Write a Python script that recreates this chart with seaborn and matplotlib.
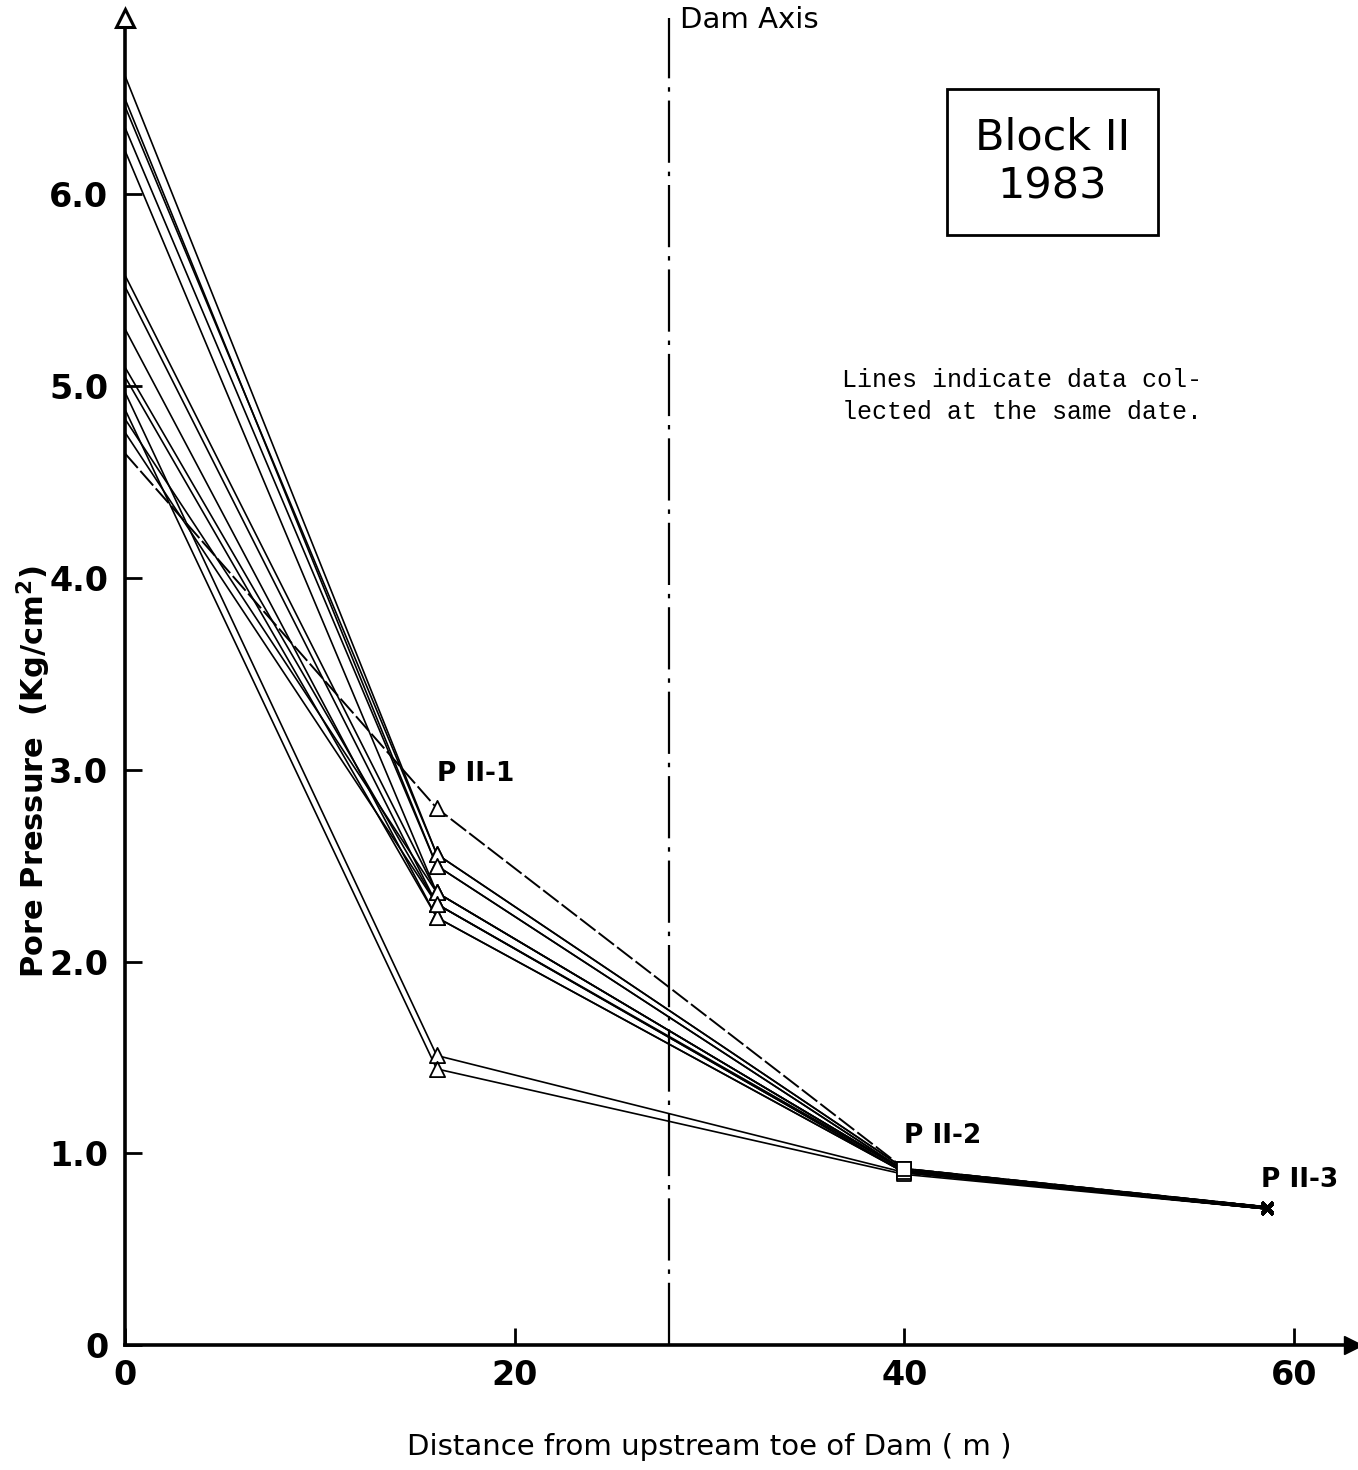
"""
Block II (1983) pore pressure profiles across the dam
"""
import pandas as pd
import numpy as np
import matplotlib
matplotlib.use("Agg")
import matplotlib.pyplot as plt
import seaborn as sns

sns.set_theme(style="ticks")
plt.rcParams['font.family'] = ['DejaVu Sans']
plt.rcParams['text.color'] = 'black'
plt.rcParams['axes.labelcolor'] = 'black'

# piezometer positions (m from upstream toe)
distance = [0.0, 16.0, 40.0, 58.6]
stations = ["upstream", "P II-1", "P II-2", "P II-3"]

# pore pressure (Kg/cm2), one entry per reading date
p_upstream = [6.62, 6.50, 6.46, 6.35, 6.23, 5.58, 5.52, 5.30, 5.10, 5.05, 4.97, 4.88, 4.83, 4.76, 4.65]
p_pii1 = [2.56, 2.50, 2.56, 2.50, 2.36, 2.36, 2.30, 2.23, 2.30, 2.23, 1.51, 1.44, 2.36, 2.30, 2.80]
p_pii2 = [0.92, 0.91, 0.92, 0.91, 0.91, 0.91, 0.90, 0.90, 0.91, 0.90, 0.90, 0.89, 0.91, 0.90, 0.92]
p_pii3 = [0.72, 0.72, 0.72, 0.71, 0.72, 0.71, 0.71, 0.71, 0.72, 0.71, 0.71, 0.71, 0.72, 0.71, 0.72]

dam_axis = 27.9

rows = []
for i in range(len(p_upstream)):
    vals = [p_upstream[i], p_pii1[i], p_pii2[i], p_pii3[i]]
    for st, d, v in zip(stations, distance, vals):
        rows.append({"date": i, "station": st, "distance": d, "pressure": v})
df = pd.DataFrame(rows)

dashed_date = len(p_upstream) - 1

fig = plt.figure(figsize=(13.58, 14.70), dpi=100)
ax = fig.add_axes([0.092, 0.085, 0.904, 0.9027])

sns.lineplot(data=df[df["date"] != dashed_date], x="distance", y="pressure",
             units="date", estimator=None, sort=False, color="black",
             lw=1.2, ax=ax, legend=False)
sns.lineplot(data=df[df["date"] == dashed_date], x="distance", y="pressure",
             estimator=None, sort=False, color="black", lw=1.4,
             linestyle=(0, (10, 2)), ax=ax, legend=False)

# piezometer markers
sns.scatterplot(data=df[df["station"] == "P II-1"], x="distance", y="pressure",
                marker="^", s=120, facecolor="white", edgecolor="black",
                linewidth=1.3, ax=ax, zorder=5, legend=False)
sns.scatterplot(data=df[df["station"] == "P II-2"], x="distance", y="pressure",
                marker="s", s=110, facecolor="white", edgecolor="black",
                linewidth=1.3, ax=ax, zorder=5, legend=False)
sns.scatterplot(data=df[df["station"] == "P II-3"], x="distance", y="pressure",
                marker="x", s=60, color="black", linewidth=2, ax=ax,
                zorder=5, legend=False)

# dam axis
ax.axvline(dam_axis, color="black", lw=1.6, ls=(0, (28, 4, 2, 4)), clip_on=False)
ax.text(dam_axis + 0.6, 6.91, "Dam Axis", fontsize=21, va="center", ha="left")

# piezometer labels
ax.text(16.0, 2.98, "P II-1", fontsize=19, fontweight="bold", ha="left", va="center")
ax.text(40.0, 1.09, "P II-2", fontsize=19, fontweight="bold", ha="left", va="center")
ax.text(58.3, 0.86, "P II-3", fontsize=19, fontweight="bold", ha="left", va="center")

# title box
ax.text(47.6, 6.17, "Block II\n1983", fontsize=31, ha="center", va="center",
        linespacing=1.2,
        bbox=dict(boxstyle="square,pad=0.65", fc="white", ec="black", lw=2))

ax.text(36.8, 4.95, "Lines indicate data col-\nlected at the same date.",
        fontsize=18, family="Liberation Mono", ha="left", va="center",
        linespacing=1.45)

ax.set_xlim(0, 63)
ax.set_ylim(0, 6.92)
ax.set_xticks([0, 20, 40, 60])
ax.set_xticklabels(["0", "20", "40", "60"])
ax.set_yticks([0, 1, 2, 3, 4, 5, 6])
ax.set_yticklabels(["0", "1.0", "2.0", "3.0", "4.0", "5.0", "6.0"])
ax.tick_params(axis="both", direction="in", length=12, width=2, labelsize=24,
               colors="black")
ax.tick_params(axis="y", pad=12)
ax.tick_params(axis="x", pad=10)
for lbl in ax.get_xticklabels() + ax.get_yticklabels():
    lbl.set_fontweight("bold")

sns.despine(ax=ax)
for side in ["left", "bottom"]:
    ax.spines[side].set_linewidth(2.6)
    ax.spines[side].set_color("black")

# axis arrows
ax.plot(0, 1, marker="^", ms=13, mfc="white", mec="black", mew=2.2,
        transform=ax.transAxes, clip_on=False, zorder=6)
ax.plot(1, 0, marker=">", ms=13, color="black",
        transform=ax.transAxes, clip_on=False, zorder=6)

ax.set_xlabel("Distance from upstream toe of Dam ( m )", fontsize=21, va="center")
ax.set_ylabel("Pore Pressure  (Kg/cm$^{\\mathbf{2}}$)", fontsize=22,
              fontweight="bold", va="center")
ax.xaxis.set_label_coords(0.476, -0.077)
ax.yaxis.set_label_coords(-0.074, 0.432)

ax.grid(False)
fig.savefig("out.png", dpi=100, facecolor="white")
